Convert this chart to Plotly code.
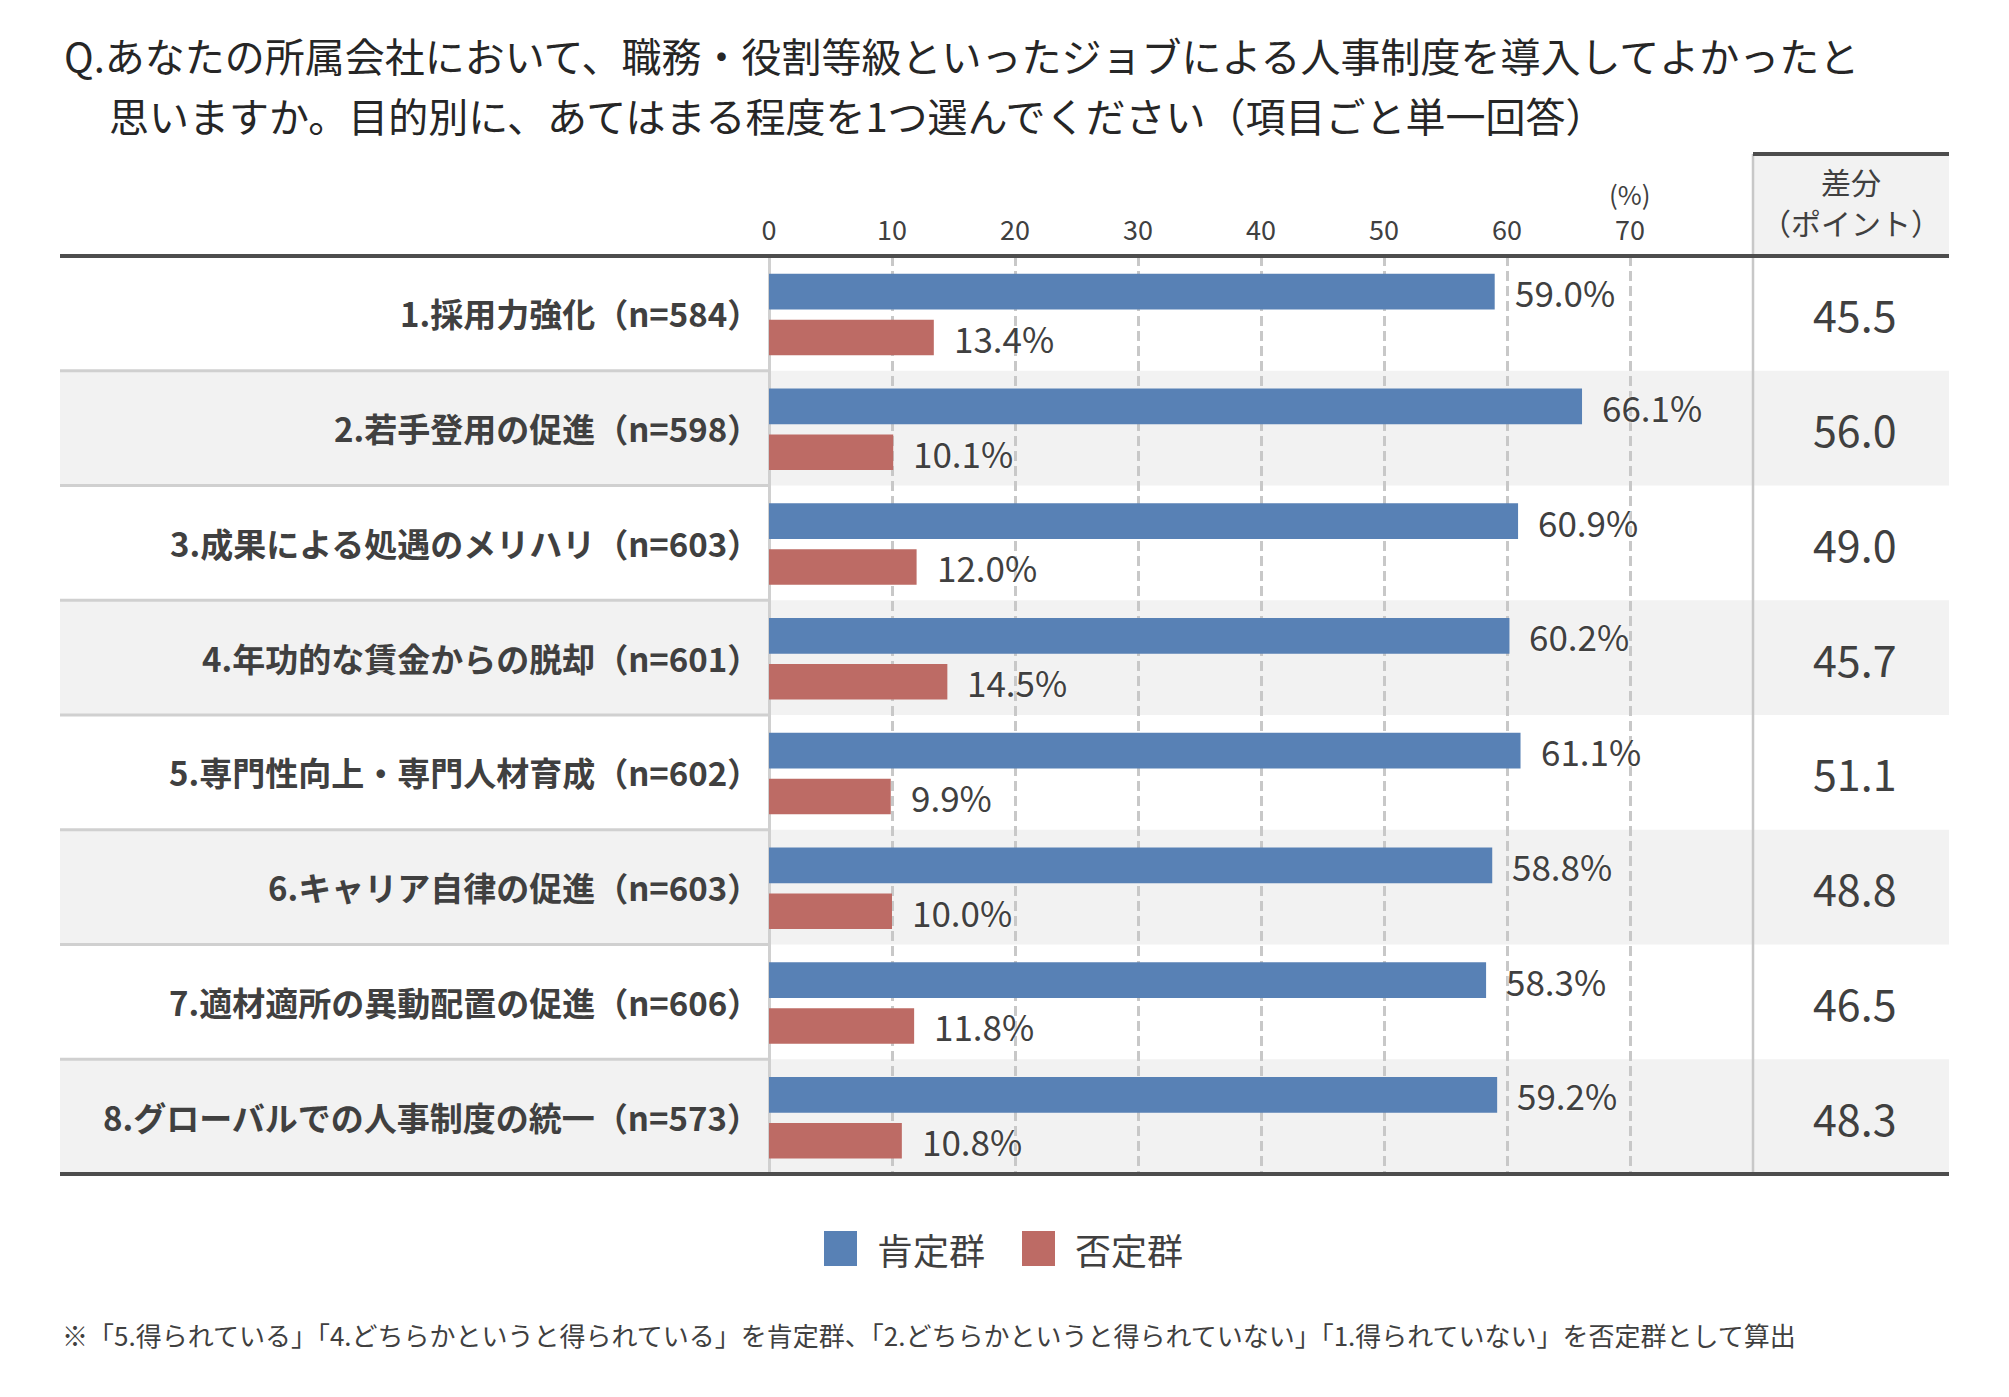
import plotly.graph_objects as go

# page body has an 8px default margin, so the figure sits at (8, 8)
PAGE_OFF = 8
W, H = 1980, 1375
FONT = "Noto Sans CJK JP"
TEXT = "#404040"

title_lines = [
    "Q.あなたの所属会社において、職務・役割等級といったジョブによる人事制度を導入してよかったと",
    "思いますか。目的別に、あてはまる程度を1つ選んでください（項目ごと単一回答）",
]
items = [
    "1.採用力強化",
    "2.若手登用の促進",
    "3.成果による処遇のメリハリ",
    "4.年功的な賃金からの脱却",
    "5.専門性向上・専門人材育成",
    "6.キャリア自律の促進",
    "7.適材適所の異動配置の促進",
    "8.グローバルでの人事制度の統一",
]
n_counts = [584, 598, 603, 601, 602, 603, 606, 573]
positive = [59.0, 66.1, 60.9, 60.2, 61.1, 58.8, 58.3, 59.2]
negative = [13.4, 10.1, 12.0, 14.5, 9.9, 10.0, 11.8, 10.8]
diff_points = [45.5, 56.0, 49.0, 45.7, 51.1, 48.8, 46.5, 48.3]
tick_vals = [0, 10, 20, 30, 40, 50, 60, 70]
series_names = ["肯定群", "否定群"]
colors = ["#5881B5", "#BD6B65"]
diff_header = ["差分", "（ポイント）"]
footnote = ("※「5.得られている」「4.どちらかというと得られている」を肯定群、"
            "「2.どちらかというと得られていない」「1.得られていない」を否定群として算出")

rows = list(range(len(items)))


def px_x(x):
    return (x - PAGE_OFF) / W


def px_y(y):
    return 1 - (y - PAGE_OFF) / H


top_y, bottom_y = 256, 1174
left_x, axis_x, split_x, right_x = 60, 769, 1753, 1949
diff_x = (split_x + right_x) / 2 + 4

fig = go.Figure()

bar_w = 0.311
fig.add_trace(go.Bar(
    x=positive, y=rows, orientation="h", name=series_names[0],
    marker=dict(color=colors[0], line=dict(width=0)),
    width=bar_w, offset=-0.19 - bar_w / 2, hoverinfo="x",
))
fig.add_trace(go.Bar(
    x=negative, y=rows, orientation="h", name=series_names[1],
    marker=dict(color=colors[1], line=dict(width=0)),
    width=bar_w, offset=0.21 - bar_w / 2, hoverinfo="x",
))

shapes = []
# shaded rows
for i in rows:
    if i % 2 == 1:
        shapes.append(dict(type="rect", xref="paper", yref="y",
                           x0=px_x(left_x), x1=px_x(right_x), y0=i - 0.5, y1=i + 0.5,
                           fillcolor="#F2F2F2", line_width=0, layer="below"))
# header cell of the diff column
shapes.append(dict(type="rect", xref="paper", yref="paper",
                   x0=px_x(split_x), x1=px_x(right_x), y0=px_y(top_y), y1=px_y(154),
                   fillcolor="#F2F2F2", line_width=0, layer="below"))
# row separators in the label area
for i in rows[:-1]:
    shapes.append(dict(type="line", xref="paper", yref="y",
                       x0=px_x(left_x), x1=px_x(axis_x), y0=i + 0.5, y1=i + 0.5,
                       line=dict(color="#D0D0D0", width=3)))
# divider before the diff column
shapes.append(dict(type="line", xref="paper", yref="paper",
                   x0=px_x(split_x), x1=px_x(split_x), y0=px_y(154), y1=px_y(bottom_y),
                   line=dict(color="#C8C8C8", width=2.5)))
# heavy rules
for y0, x0 in [(top_y, left_x), (bottom_y, left_x), (154, split_x)]:
    shapes.append(dict(type="line", xref="paper", yref="paper",
                       x0=px_x(x0), x1=px_x(right_x), y0=px_y(y0), y1=px_y(y0),
                       line=dict(color="#4D4D4D", width=4)))
# legend swatches
legend_pos = [(824, 875), (1022, 1073)]
for (sx, tx), c in zip(legend_pos, colors):
    shapes.append(dict(type="rect", xref="paper", yref="paper",
                       x0=px_x(sx), x1=px_x(sx + 33), y0=px_y(1266), y1=px_y(1231),
                       fillcolor=c, line_width=0))

ann = []
ann.append(dict(text=title_lines[0], x=px_x(62), y=px_y(55), xanchor="left", yanchor="middle",
                font=dict(size=40, color="#262626")))
ann.append(dict(text=title_lines[1], x=px_x(107), y=px_y(115), xanchor="left", yanchor="middle",
                font=dict(size=40, color="#262626")))
ann.append(dict(text="(%)", x=70, xref="x", y=px_y(194), xanchor="center", yanchor="middle",
                font=dict(size=26, color=TEXT)))
ann.append(dict(text=diff_header[0], x=px_x(diff_x - 4), y=px_y(181),
                xanchor="center", yanchor="middle", font=dict(size=30, color=TEXT)))
ann.append(dict(text=diff_header[1], x=px_x(diff_x - 4), y=px_y(222),
                xanchor="center", yanchor="middle", font=dict(size=30, color=TEXT)))

halo = "0px 0px 3px white"
for i, (name, n) in enumerate(zip(items, n_counts)):
    ann.append(dict(text=f"<b>{name}（n={n}）</b>", x=px_x(762), y=i, yref="y",
                    xanchor="right", yanchor="middle", font=dict(size=33, color=TEXT)))
    ann.append(dict(text=f"{positive[i]:.1f}%", x=positive[i], xref="x", y=i - 0.19, yref="y",
                    xanchor="left", yanchor="middle", xshift=18,
                    font=dict(size=35, color=TEXT, shadow=halo)))
    ann.append(dict(text=f"{negative[i]:.1f}%", x=negative[i], xref="x", y=i + 0.21, yref="y",
                    xanchor="left", yanchor="middle", xshift=18,
                    font=dict(size=35, color=TEXT, shadow=halo)))
    ann.append(dict(text=f"{diff_points[i]:.1f}", x=px_x(diff_x), y=i, yref="y",
                    xanchor="center", yanchor="middle", font=dict(size=43, color=TEXT)))

for (sx, tx), name in zip(legend_pos, series_names):
    ann.append(dict(text=name, x=px_x(tx), y=px_y(1249), xanchor="left", yanchor="middle",
                    font=dict(size=36, color=TEXT)))

ann.append(dict(text=footnote, x=px_x(60), y=px_y(1334), xanchor="left", yanchor="middle",
                font=dict(size=26, color=TEXT)))

for a in ann:
    a.setdefault("xref", "paper")
    a.setdefault("yref", "paper")
    a["showarrow"] = False

fig.update_layout(
    width=W, height=H,
    margin=dict(l=0, r=0, t=0, b=0),
    paper_bgcolor="white",
    plot_bgcolor="rgba(0,0,0,0)",
    font=dict(family=FONT, color=TEXT),
    barmode="overlay",
    showlegend=False,
    shapes=shapes,
    annotations=ann,
    xaxis=dict(
        domain=[px_x(axis_x), px_x(split_x)], range=[0, 80],
        side="top", tickvals=tick_vals, ticks="",
        tickfont=dict(size=27, color=TEXT), ticklabelstandoff=10,
        showgrid=True, gridcolor="#C8C8C8", gridwidth=2.5, griddash="10px,5px",
        zeroline=True, zerolinecolor="#D0D0D0", zerolinewidth=2.5,
        showline=False, automargin=False, fixedrange=True,
    ),
    yaxis=dict(
        domain=[px_y(bottom_y), px_y(top_y)], range=[7.5, -0.5],
        showticklabels=False, showgrid=False, zeroline=False, showline=False,
        automargin=False, fixedrange=True,
    ),
)

fig.write_html("out.html")
